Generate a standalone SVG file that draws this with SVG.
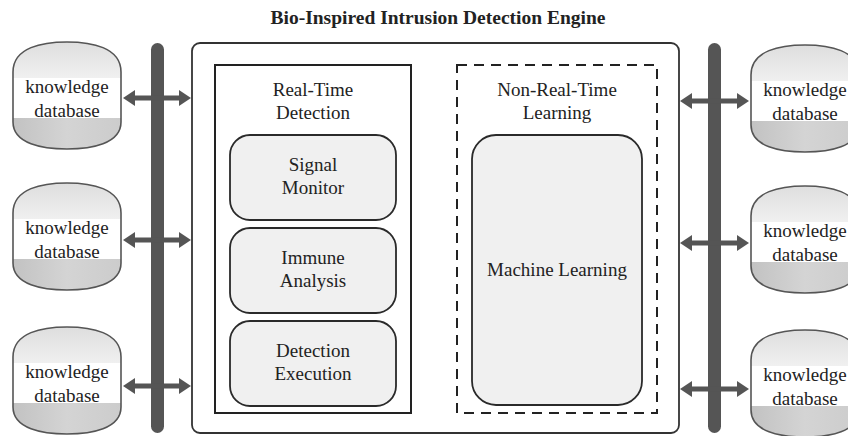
<svg xmlns="http://www.w3.org/2000/svg" width="848" height="436" viewBox="0 0 848 436">
  <defs>
    <style>
      text { font-family: "Liberation Serif", "DejaVu Serif", "Times New Roman", serif; fill: #222; text-anchor: middle; }
      .t { font-size: 19px; }
      .title { font-size: 19.5px; font-weight: bold; }
      .bar { fill: #555; }
      .frame { fill: #fff; stroke: #333; stroke-width: 1.8; }
      .panel { fill: none; stroke: #222; stroke-width: 2; }
      .dashed { fill: none; stroke: #222; stroke-width: 2; stroke-dasharray: 10 7; }
      .module { fill: #f0f0f0; stroke: #2a2a2a; stroke-width: 1.8; }
      .db-outline { fill: none; stroke: #555; stroke-width: 1.6; }
      .link { stroke: #555; stroke-width: 5; fill: none; marker-start: url(#head); marker-end: url(#head); }
    </style>
    <marker id="head" viewBox="0 0 12 16" refX="4" refY="8" markerWidth="12" markerHeight="16" markerUnits="userSpaceOnUse" orient="auto-start-reverse">
      <path d="M0,0 L12,8 L0,16 Z" fill="#555"/>
    </marker>
    <linearGradient id="topBand" x1="0" y1="0" x2="0" y2="1">
      <stop offset="0" stop-color="#dedede"/>
      <stop offset="1" stop-color="#f0f0f0"/>
    </linearGradient>
    <linearGradient id="botBand" x1="0" y1="0" x2="1" y2="0">
      <stop offset="0" stop-color="#c2c2c2"/>
      <stop offset="0.5" stop-color="#d4d4d4"/>
      <stop offset="1" stop-color="#cccccc"/>
    </linearGradient>
    <clipPath id="dbClip">
      <path id="dbShape" d="M0,30 C0,5 30,0 54,0 C78,0 108,5 108,30 V80 C108,102 78,107 54,107 C30,107 0,102 0,80 Z"/>
    </clipPath>
    <!-- barrel-shaped knowledge store: grey cap, white label band, darker base -->
    <g id="db">
      <g clip-path="url(#dbClip)">
        <rect x="0" y="0" width="108" height="36" fill="url(#topBand)"/>
        <rect x="0" y="36" width="108" height="40" fill="#fff"/>
        <rect x="0" y="76" width="108" height="31" fill="url(#botBand)"/>
      </g>
      <use href="#dbShape" class="db-outline"/>
      <text class="t" x="54" y="51" font-family="Liberation Serif, serif">knowledge</text>
      <text class="t" x="54" y="75" font-family="Liberation Serif, serif">database</text>
    </g>
  </defs>

  <rect width="848" height="436" fill="#fff"/>

  <text class="title" x="438" y="24">Bio-Inspired Intrusion Detection Engine</text>

  <!-- shared buses -->
  <g id="buses">
    <rect class="bar" x="151" y="43" width="13" height="390" rx="6.5"/>
    <rect class="bar" x="708" y="43" width="13" height="390" rx="6.5"/>
  </g>

  <!-- engine -->
  <g id="engine">
    <rect class="frame" x="192" y="43" width="487" height="390" rx="8"/>
  </g>

  <g id="real-time">
    <rect class="panel" x="215" y="65" width="196" height="348"/>
    <text class="t" x="313" y="96">Real-Time</text>
    <text class="t" x="313" y="119">Detection</text>
  </g>

  <g id="signal-monitor">
    <rect class="module" x="230" y="135" width="166" height="85" rx="20"/>
    <text class="t" x="313" y="171">Signal</text>
    <text class="t" x="313" y="194">Monitor</text>
  </g>

  <g id="immune-analysis">
    <rect class="module" x="230" y="228" width="166" height="85" rx="20"/>
    <text class="t" x="313" y="264">Immune</text>
    <text class="t" x="313" y="287">Analysis</text>
  </g>

  <g id="detection-execution">
    <rect class="module" x="230" y="321" width="166" height="85" rx="20"/>
    <text class="t" x="313" y="357">Detection</text>
    <text class="t" x="313" y="380">Execution</text>
  </g>

  <g id="non-real-time">
    <rect class="dashed" x="457" y="65" width="200" height="348"/>
    <text class="t" x="557" y="96">Non-Real-Time</text>
    <text class="t" x="557" y="119">Learning</text>
  </g>

  <g id="machine-learning">
    <rect class="module" x="472" y="135" width="170" height="270" rx="24"/>
    <text class="t" x="557" y="276">Machine Learning</text>
  </g>

  <!-- knowledge databases -->
  <g id="db-left-1"><use href="#db" x="13" y="42"/></g>
  <g id="db-left-2"><use href="#db" x="13" y="183"/></g>
  <g id="db-left-3"><use href="#db" x="13" y="327"/></g>
  <g id="db-right-1"><use href="#db" x="751" y="45"/></g>
  <g id="db-right-2"><use href="#db" x="751" y="186"/></g>
  <g id="db-right-3"><use href="#db" x="751" y="330"/></g>

  <!-- bidirectional links across the buses -->
  <g id="connectors">
    <line class="link" x1="131" y1="98" x2="183" y2="98"/>
    <line class="link" x1="131" y1="240" x2="183" y2="240"/>
    <line class="link" x1="131" y1="386" x2="183" y2="386"/>
    <line class="link" x1="688" y1="101" x2="741" y2="101"/>
    <line class="link" x1="688" y1="243" x2="741" y2="243"/>
    <line class="link" x1="688" y1="389" x2="741" y2="389"/>
  </g>
</svg>
